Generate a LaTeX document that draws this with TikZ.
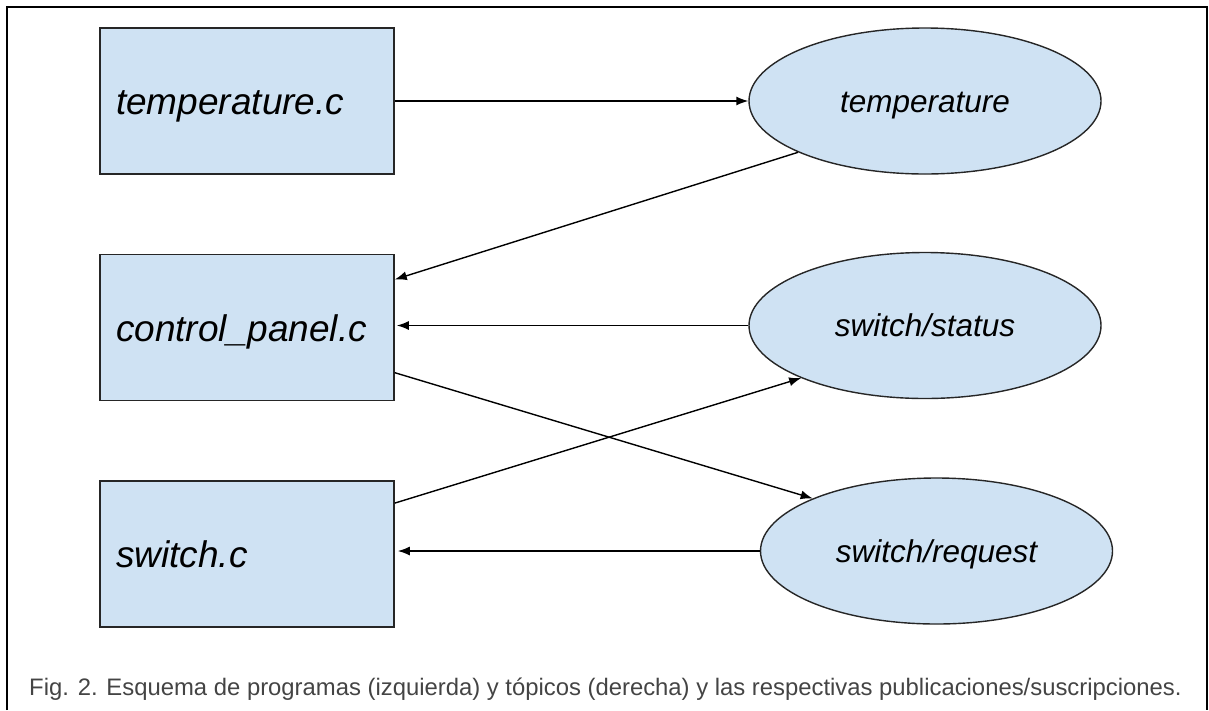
\documentclass[tikz,border=0pt]{standalone}
\usepackage{fontspec}
\setmainfont{Liberation Sans}
\usetikzlibrary{arrows.meta,shapes.geometric}
\definecolor{boxfill}{HTML}{CFE2F3}
\definecolor{captiongray}{HTML}{444444}
\begin{document}
\begin{tikzpicture}[x=1pt,y=-1pt,
  prog/.style={draw=black!85,line width=1.6pt,fill=boxfill,minimum width=294pt,minimum height=146pt,
    inner xsep=16pt,inner ysep=0pt,text width=262pt,align=left,
    font=\fontsize{37}{44}\selectfont\itshape,text height=27pt,text depth=0pt},
  topic/.style={ellipse,draw=black!85,line width=1.4pt,fill=boxfill,minimum width=352pt,minimum height=146pt,
    inner sep=0pt,font=\fontsize{31.5}{38}\selectfont\itshape,text height=22pt,text depth=0pt},
  conn/.style={line width=1.4pt,-{Latex[length=12pt,width=9pt]}},
  frameline/.style={line width=2.5pt}]
\useasboundingbox (0,0) rectangle (1209,710);
\draw[frameline] (7,710) -- (7,7) -- (1207,7) -- (1207,710);

\node[prog] (tc) at (247,101) {temperature.c};
\node[prog] (cp) at (247,327.5) {control\_panel.c};
\node[prog] (sc) at (247,554) {switch.c};

\node[topic] (te) at (925,101) {temperature};
\node[topic] (ss) at (925,325.5) {switch/status};
\node[topic] (sr) at (936.5,551) {switch/request};

\node[anchor=base west,inner sep=0pt,font=\fontsize{23.85}{29}\selectfont,text=captiongray] (cap) at (29,695)
  {Fig. 2. Esquema de programas (izquierda) y tópicos (derecha) y las respectivas publicaciones/suscripciones.};

\draw[conn] (tc.east) -- (te.west);
\draw[conn] (te.202.3) -- (cp.18.3);
\draw[conn,shorten >=2pt] (ss.west) -- (ss.west -| cp.east);
\draw[conn] (cp.-17.9) -- (sr.157.3);
\draw[conn] (sc.19.1) -- (ss.203.6);
\draw[conn,shorten >=3pt] (sr.west) -- (sr.west -| sc.east);
\end{tikzpicture}
\end{document}
